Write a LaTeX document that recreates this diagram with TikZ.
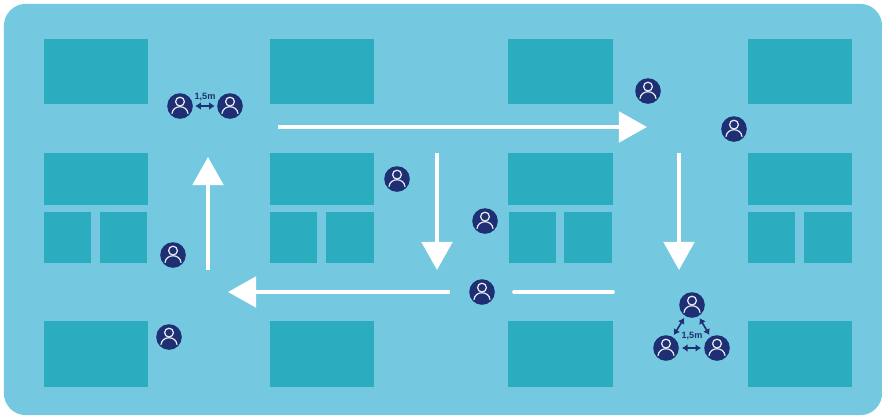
\documentclass[tikz,border=0pt]{standalone}
\usepackage{fontspec}
\setsansfont{Liberation Sans}
\usetikzlibrary{arrows.meta}
\definecolor{panelblue}{RGB}{116, 201, 225}
\definecolor{tablecyan}{RGB}{43, 172, 191}
\definecolor{persondark}{RGB}{30, 48, 115}

\begin{document}
\begin{tikzpicture}[
  x=0.025cm, y=-0.025cm,
  every node/.style={font=\sffamily\bfseries},
  panel/.style={fill=panelblue, rounded corners=0.55cm, minimum width=21.95cm, minimum height=10.28cm, inner sep=0pt},
  bigtable/.style={fill=tablecyan, minimum width=2.6cm, minimum height=1.63cm, inner sep=0pt},
  midtable/.style={fill=tablecyan, minimum width=2.6cm, minimum height=1.3cm, inner sep=0pt},
  smalltable/.style={fill=tablecyan, minimum width=1.19cm, minimum height=1.28cm, inner sep=0pt},
  person/.style={circle, fill=persondark, minimum size=0.64cm, inner sep=0pt,
    path picture={
      \draw[white!92!persondark, line width=0.03cm] ([yshift=0.11cm]path picture bounding box.center) circle (4.4);
      \draw[white!92!persondark, line width=0.03cm, line cap=round]
        ([shift={(-8,7.5)}]path picture bounding box.center)
        .. controls ([shift={(-7,-1.5)}]path picture bounding box.center) and ([shift={(7,-1.5)}]path picture bounding box.center)
        .. ([shift={(8,7.5)}]path picture bounding box.center);
    }},
  walk/.style={-{Triangle[length=0.7cm, width=0.76cm]}, white, line width=0.09cm},
  walkline/.style={white, line width=0.09cm, line cap=round},
  gap/.style={{Latex[length=1.4mm, width=1.9mm]}-{Latex[length=1.4mm, width=1.9mm]}, persondark, line width=0.04cm},
  gaplabel/.style={text=persondark, font=\sffamily\bfseries\fontsize{6.5}{7}\selectfont, inner sep=0pt},
]
\useasboundingbox (0, 0) rectangle (882, 416);

% Floor
\node[panel] (floor) at (443, 209.5) {};

% Column 1
\node[bigtable] (a1) at (96, 71.5) {};
\node[midtable] (a2) at (96, 179) {};
\node[smalltable] (a3) at (67.5, 237.5) {};
\node[smalltable] (a4) at (123.5, 237.5) {};
\node[bigtable] (a5) at (96, 354) {};

% Column 2
\node[bigtable] (b1) at (322, 71.5) {};
\node[midtable] (b2) at (322, 179) {};
\node[smalltable] (b3) at (293.5, 237.5) {};
\node[smalltable] (b4) at (350, 237.5) {};
\node[bigtable] (b5) at (322, 354) {};

% Column 3
\node[bigtable] (c1) at (560.5, 71.5) {};
\node[midtable] (c2) at (560.5, 179) {};
\node[smalltable] (c3) at (532.5, 237.5) {};
\node[smalltable] (c4) at (588, 237.5) {};
\node[bigtable] (c5) at (560.5, 354) {};

% Column 4
\node[bigtable] (d1) at (800, 71.5) {};
\node[midtable] (d2) at (800, 179) {};
\node[smalltable] (d3) at (771.5, 237.5) {};
\node[smalltable] (d4) at (828, 237.5) {};
\node[bigtable] (d5) at (800, 354) {};

% People
\node[person] (p1) at (180, 106) {};
\node[person] (p2) at (230, 106) {};
\node[person] (p3) at (397, 179) {};
\node[person] (p4) at (485, 221) {};
\node[person] (p5) at (173, 255) {};
\node[person] (p6) at (169, 337) {};
\node[person] (p7) at (482, 292) {};
\node[person] (p8) at (648, 91) {};
\node[person] (p9) at (734, 129) {};
\node[person] (p10) at (692, 305) {};
\node[person] (p11) at (666, 348) {};
\node[person] (p12) at (717, 348) {};

% Route ends
\coordinate (w1) at (278, 127);
\coordinate (w2) at (647, 127);
\coordinate (w3) at (437, 153);
\coordinate (w4) at (437, 270);
\coordinate (w5) at (679, 153);
\coordinate (w6) at (679, 270);
\coordinate (w7) at (450, 292);
\coordinate (w8) at (228, 292);
\coordinate (w9) at (208, 270);
\coordinate (w10) at (208, 157);
\coordinate (w11) at (514, 292);
\coordinate (w12) at (613, 292);

% Route
\draw[walk] (w1) -- (w2);
\draw[walk] (w3) -- (w4);
\draw[walk] (w5) -- (w6);
\draw[walk] (w7) -- (w8);
\draw[walk] (w9) -- (w10);
\draw[walkline] (w11) -- (w12);

% Distances
\draw[gap, shorten <=1.5pt, shorten >=1.5pt] (p1) -- (p2);
\draw[gap, shorten <=1.5pt, shorten >=1.5pt] (p10) -- (p11);
\draw[gap, shorten <=1.5pt, shorten >=1.5pt] (p10) -- (p12);
\draw[gap, shorten <=2pt, shorten >=2pt] (p11) -- (p12);
\node[gaplabel] (d1label) at (205, 97) {1,5m};
\node[gaplabel] (d2label) at (692, 336) {1,5m};

\end{tikzpicture}
\end{document}
